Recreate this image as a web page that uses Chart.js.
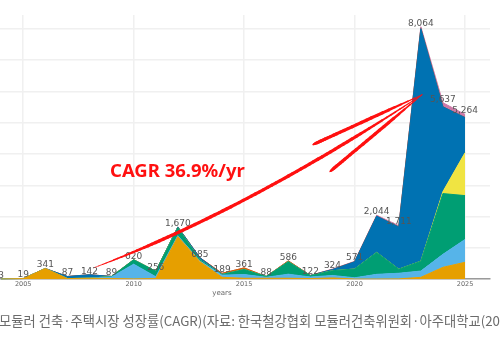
<!DOCTYPE html>
<html>
<head>
<meta charset="utf-8">
<script src="https://cdn.jsdelivr.net/npm/chart.js@4.4.0/dist/chart.umd.min.js"></script>
<style>
  body { margin: 0; background: #fff; }
  canvas { display: block; }
</style>
</head>
<body>
<canvas id="cagr" width="500" height="345"></canvas>
<script>
const years = [2004, 2005, 2006, 2007, 2008, 2009, 2010, 2011, 2012, 2013, 2014,
               2015, 2016, 2017, 2018, 2019, 2020, 2021, 2022, 2023, 2024, 2025];

// stacked segments, bottom to top
const orange    = [3, 19, 341, 20, 30, 20, 10, 20, 1360, 560, 60, 30, 30, 30, 20, 40, 5, 5, 10, 60, 380, 540];
const skyBlue   = [0, 0, 0, 0, 0, 50, 470, 60, 30, 20, 70, 120, 30, 130, 50, 80, 40, 150, 180, 200, 415, 730];
const green     = [0, 0, 0, 0, 0, 19, 140, 176, 250, 40, 20, 160, 28, 400, 40, 150, 280, 700, 130, 315, 1940, 1400];
const yellow    = [0, 0, 0, 0, 0, 0, 0, 0, 0, 0, 0, 0, 0, 0, 0, 0, 0, 0, 0, 0, 65, 1370];
const blue      = [0, 0, 0, 67, 112, 0, 0, 0, 30, 65, 10, 0, 0, 0, 12, 40, 230, 1160, 1350, 7430, 2707, 1124];
const vermilion = [0, 0, 0, 0, 0, 0, 0, 0, 0, 0, 29, 51, 0, 26, 0, 0, 0, 0, 0, 0, 0, 0];
const pink      = [0, 0, 0, 0, 0, 0, 0, 0, 0, 0, 0, 0, 0, 0, 0, 14, 16, 29, 41, 59, 130, 100];

const xTicks = [2005, 2010, 2015, 2020, 2025];
const yGrid = [0, 1000, 2000, 3000, 4000, 5000, 6000, 7000, 8000];

const layers = [
  [orange, '#E69F00'],
  [skyBlue, '#56B4E9'],
  [green, '#009E73'],
  [yellow, '#F0E442'],
  [blue, '#0072B2'],
  [vermilion, '#D55E00'],
  [pink, '#CC79A7']
];

const datasets = layers.map(([vals, color], i) => ({
  data: vals.map((v, j) => ({ x: years[j], y: v })),
  backgroundColor: color,
  borderColor: color,
  borderWidth: 1,
  fill: i === 0 ? 'origin' : '-1',
  pointRadius: 0,
  tension: 0
}));

// year totals written above each stack
const totalLabels = {
  id: 'totalLabels',
  afterDatasetsDraw(chart) {
    const { ctx, scales: { x, y } } = chart;
    ctx.save();
    ctx.font = '9px "DejaVu Sans"';
    ctx.fillStyle = '#555';
    ctx.textAlign = 'center';
    ctx.textBaseline = 'bottom';
    years.forEach((yr, j) => {
      const total = layers.reduce((s, [vals]) => s + vals[j], 0);
      ctx.fillText(total.toLocaleString('en-US'), x.getPixelForValue(yr), y.getPixelForValue(total) + 1);
    });
    ctx.restore();
  }
};

// brush-like stroke that thins out at both ends
function brush(ctx, pts, maxW) {
  const n = pts.length - 1;
  for (let i = 0; i < n; i++) {
    const t = (i + 0.5) / n;
    ctx.lineWidth = 0.6 + maxW * Math.min(1, t * 5, (1 - t) * 5);
    ctx.beginPath();
    ctx.moveTo(pts[i][0], pts[i][1]);
    ctx.lineTo(pts[i + 1][0], pts[i + 1][1]);
    ctx.stroke();
  }
}

function quad(p0, c, p1, steps) {
  const pts = [];
  for (let i = 0; i <= steps; i++) {
    const t = i / steps, u = 1 - t;
    pts.push([u * u * p0[0] + 2 * u * t * c[0] + t * t * p1[0],
              u * u * p0[1] + 2 * u * t * c[1] + t * t * p1[1]]);
  }
  return pts;
}

// growth arrow, CAGR note, axis title and caption
const notes = {
  id: 'notes',
  afterDraw(chart) {
    const { ctx, scales: { x, y } } = chart;
    const px = (yr, v) => [x.getPixelForValue(yr), y.getPixelForValue(v)];
    const start = px(2008.25, 380);
    const bend = px(2015.0, 2170);
    const tip = px(2023.05, 5890);
    const barbA = px(2018.12, 4300);
    const barbB = px(2018.89, 3440);

    ctx.save();
    ctx.strokeStyle = '#ff1010';
    ctx.lineCap = 'round';
    brush(ctx, quad(start, bend, tip, 80), 2.6);
    brush(ctx, quad(barbA, barbA, tip, 30), 2.6);
    brush(ctx, quad(barbB, barbB, tip, 30), 2.6);

    ctx.fillStyle = '#ff1010';
    ctx.font = 'bold 18.5px "Noto Sans"';
    ctx.textAlign = 'left';
    ctx.textBaseline = 'alphabetic';
    const [tx, ty] = px(2008.93, 3280);
    ctx.fillText('CAGR 36.9%/yr', tx, ty);

    ctx.fillStyle = '#666';
    ctx.font = '7px "DejaVu Sans"';
    ctx.textAlign = 'center';
    ctx.fillText('years', 222, 295);

    ctx.fillStyle = '#6b6b6b';
    ctx.font = '13.3px "Noto Sans CJK KR"';
    ctx.textAlign = 'left';
    ctx.fillText('모듈러 건축·주택시장 성장률(CAGR)(자료: 한국철강협회 모듈러건축위원회·아주대학교(2023))', -1, 326);
    ctx.restore();
  }
};

new Chart(document.getElementById('cagr'), {
  type: 'line',
  data: { datasets },
  plugins: [totalLabels, notes],
  options: {
    responsive: false,
    animation: false,
    layout: { padding: { top: 15, right: 10, left: 0, bottom: 56 } },
    plugins: { legend: { display: false }, tooltip: { enabled: false } },
    scales: {
      x: {
        type: 'linear',
        min: 2003.95,
        max: 2026.13,
        afterBuildTicks: s => { s.ticks = xTicks.map(v => ({ value: v })); },
        ticks: { font: { family: 'DejaVu Sans', size: 6.5 }, color: '#666', padding: 1, maxRotation: 0, autoSkip: false, callback: v => String(v) },
        grid: { color: '#f0f0f0', lineWidth: 1.5, drawTicks: false },
        border: { color: '#9a9a9a', width: 1.5 }
      },
      y: {
        stacked: true,
        min: 0,
        max: 8440,
        afterBuildTicks: s => { s.ticks = yGrid.map(v => ({ value: v })); },
        ticks: { display: false },
        grid: { color: '#f0f0f0', lineWidth: 1.5, drawTicks: false },
        border: { display: false }
      }
    }
  }
});
</script>
</body>
</html>
